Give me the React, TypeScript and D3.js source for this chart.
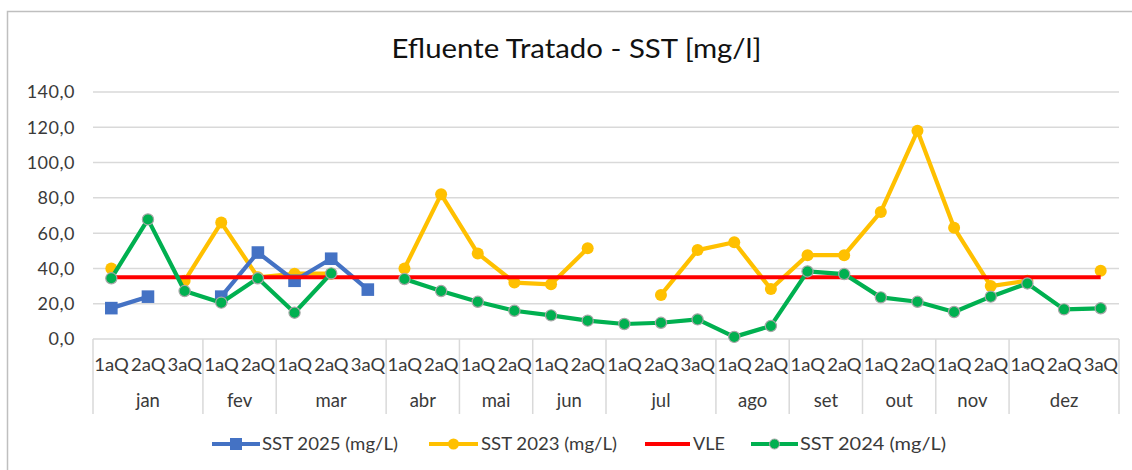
import React from "react";
import * as d3 from "d3";

const months = ["jan", "fev", "mar", "abr", "mai", "jun", "jul", "ago", "set", "out", "nov", "dez"];
const quinzenas = [
  ["1aQ", "2aQ", "3aQ"], ["1aQ", "2aQ"], ["1aQ", "2aQ", "3aQ"], ["1aQ", "2aQ"], ["1aQ", "2aQ"], ["1aQ", "2aQ"],
  ["1aQ", "2aQ", "3aQ"], ["1aQ", "2aQ"], ["1aQ", "2aQ"], ["1aQ", "2aQ"], ["1aQ", "2aQ"], ["1aQ", "2aQ", "3aQ"],
];
const sst2025: (number | null)[] = [17.5, 24, null, 24, 49, 33, 45.5, 28, null, null, null, null, null, null, null, null, null, null, null, null, null, null, null, null, null, null, null, null];
const sst2023: (number | null)[] = [40, null, 33, 66, 35, 37, 37, null, 40, 82, 48.5, 32, 31, 51.4, null, 25, 50.4, 54.8, 28.3, 47.5, 47.5, 72, 118, 63, 30, 33, null, 38.7];
const vle: (number | null)[] = Array(28).fill(35);
const sst2024: (number | null)[] = [34.4, 67.8, 27.2, 20.6, 34.4, 14.9, 37.2, null, 34, 27.2, 21.1, 16, 13.4, 10.4, 8.5, 9.2, 11.1, 1.2, 7.4, 38.3, 36.8, 23.6, 21.1, 15.3, 24, 31.5, 16.8, 17.4];
const yTicks = [0, 20, 40, 60, 80, 100, 120, 140];
const title = "Efluente Tratado - SST [mg/l]";

const FONT = "Lato, 'Open Sans', sans-serif";
const TXT = "#3a3a3a";

export default function App() {
  const left = 93, right = 1119, top = 92, bottom = 339;
  const cats: { m: number; q: string; i: number }[] = [];
  quinzenas.forEach((qs, m) => qs.forEach((q) => cats.push({ m, q, i: cats.length })));
  const x = d3.scaleBand<number>().domain(cats.map((c) => c.i)).range([left, right]).padding(0);
  const cx = (i: number) => (x(i) as number) + x.bandwidth() / 2;
  const y = d3.scaleLinear().domain([0, 140]).range([bottom, top]);
  const line = d3.line<number | null>()
    .defined((d) => d != null)
    .x((_, i) => cx(i))
    .y((d) => y(d as number));
  const fmt = (v: number) => d3.format(".1f")(v).replace(".", ",");

  const bounds: number[] = [left];
  const monthCenters: number[] = [];
  let acc = 0;
  quinzenas.forEach((qs) => {
    const a = x(acc) as number;
    const b = (x(acc + qs.length - 1) as number) + x.bandwidth();
    bounds.push(b);
    monthCenters.push((a + b) / 2);
    acc += qs.length;
  });

  const blue = "#4472C4", yellow = "#FFC000", red = "#FF0000", green = "#00B050";

  return (
    <svg width={1132} height={470} style={{ position: "absolute", left: 0, top: 0, background: "#fff" }}>
      <rect x={7.5} y={11.5} width={1130} height={470} fill="#fff" stroke="#bfbfbf" strokeWidth={1.5} />
      <text x={391.5} y={57.5} fontFamily={FONT} fontSize={27.5} fill="#111" textLength={370} lengthAdjust="spacingAndGlyphs">{title}</text>
      {yTicks.map((t) => (
        <g key={t}>
          {t > 0 && <line x1={left} x2={right} y1={y(t)} y2={y(t)} stroke="#d9d9d9" strokeWidth={1.5} />}
          <text x={75} y={y(t)} dy="0.36em" textAnchor="end" fontFamily={FONT} fontSize={18} letterSpacing={0.5} fill={TXT}>{fmt(t)}</text>
        </g>
      ))}
      <line x1={left} x2={right} y1={bottom} y2={bottom} stroke="#d9d9d9" strokeWidth={1.5} />
      {bounds.map((b, i) => (
        <line key={i} x1={b} x2={b} y1={bottom} y2={414} stroke="#d9d9d9" strokeWidth={1.5} />
      ))}
      {cats.map((c) => (
        <text key={c.i} x={cx(c.i) - 17} y={370.5} fontFamily={FONT} fontSize={18} fill={TXT} textLength={34.5} lengthAdjust="spacingAndGlyphs">{c.q}</text>
      ))}
      {months.map((m, i) => (
        <text key={m} x={monthCenters[i]} y={407} textAnchor="middle" fontFamily={FONT} fontSize={18.5} fill={TXT}>{m}</text>
      ))}

      <path d={line(sst2023) || ""} fill="none" stroke={yellow} strokeWidth={4.2} strokeLinejoin="round" />
      {sst2023.map((v, i) => v != null && <circle key={i} cx={cx(i)} cy={y(v)} r={6} fill={yellow} />)}
      <path d={line(sst2025) || ""} fill="none" stroke={blue} strokeWidth={4.2} strokeLinejoin="round" />
      {sst2025.map((v, i) => v != null && <rect key={i} x={cx(i) - 6.3} y={y(v) - 6.3} width={12.6} height={12.6} fill={blue} />)}
      <path d={line(vle) || ""} fill="none" stroke={red} strokeWidth={4.2} />
      <path d={line(sst2024) || ""} fill="none" stroke={green} strokeWidth={4.2} strokeLinejoin="round" />
      {sst2024.map((v, i) => v != null && <circle key={i} cx={cx(i)} cy={y(v)} r={5.6} fill={green} stroke="#a6a6a6" strokeWidth={1.2} />)}

      <g fontFamily={FONT} fontSize={18} fill={TXT}>
        <line x1={212} x2={260} y1={444} y2={444} stroke={blue} strokeWidth={4.2} />
        <rect x={230} y={438} width={12} height={12} fill={blue} />
        <text x={262} y={444} dy="0.36em" textLength={136} lengthAdjust="spacingAndGlyphs">SST 2025 (mg/L)</text>
        <line x1={429} x2={478} y1={444} y2={444} stroke={yellow} strokeWidth={4.2} />
        <circle cx={453.5} cy={444} r={5.5} fill={yellow} />
        <text x={481} y={444} dy="0.36em" textLength={136} lengthAdjust="spacingAndGlyphs">SST 2023 (mg/L)</text>
        <line x1={645} x2={690} y1={444} y2={444} stroke={red} strokeWidth={4.2} />
        <text x={693} y={444} dy="0.36em">VLE</text>
        <line x1={751} x2={798} y1={444} y2={444} stroke={green} strokeWidth={4.2} />
        <circle cx={774.5} cy={444} r={5} fill={green} stroke="#a6a6a6" strokeWidth={1} />
        <text x={800} y={444} dy="0.36em" textLength={146} lengthAdjust="spacingAndGlyphs">SST 2024 (mg/L)</text>
      </g>
    </svg>
  );
}
